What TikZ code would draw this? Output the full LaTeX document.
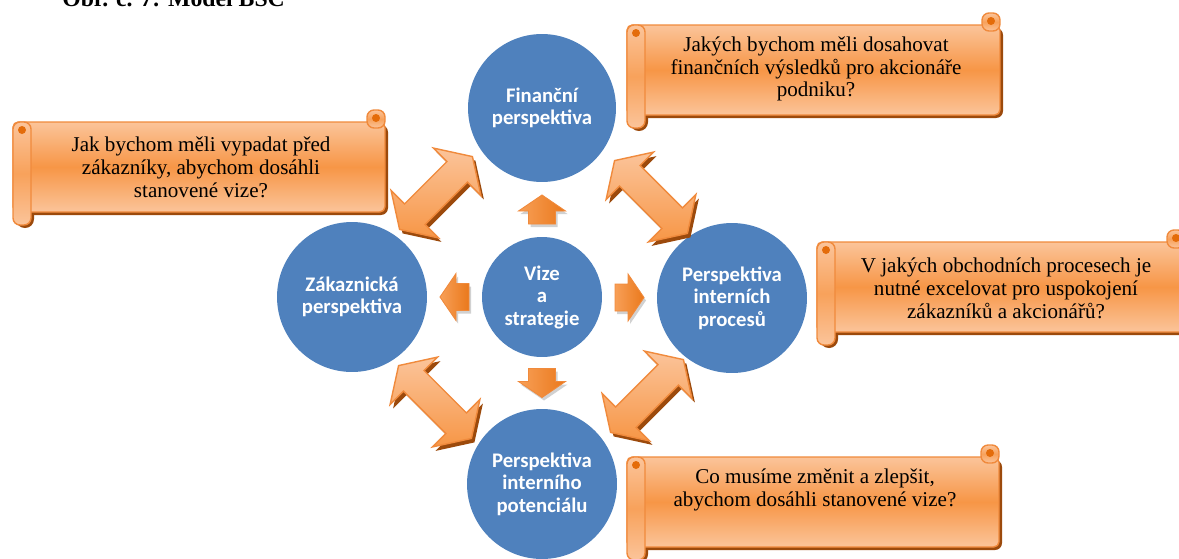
\documentclass[tikz,border=0pt]{standalone}
\usepackage{fontspec}
\setmainfont{Liberation Serif}
\newfontfamily\calibri{Carlito}
\usetikzlibrary{calc}

\definecolor{bscblue}{HTML}{4F81BD}
\definecolor{orgmid}{HTML}{F79646}
\definecolor{orglight}{HTML}{FBC49A}
\definecolor{orgdark}{HTML}{E46C0A}
\definecolor{orgline}{HTML}{F08A3C}
\definecolor{orgshadow}{HTML}{9C4A0C}

% scroll: #1 left x, #2 top y, #3 right x
\newcommand\scrollshape[3]{%
  \fill[orgshadow, rounded corners=4pt] (#1+3,#2+15) rectangle (#3+3,#2+105);
  \fill[orgshadow, rounded corners=5pt] (#1+3,#2+15) rectangle (#1+21,#2+118);
  \draw[scrollbody] (#1,#2+12) rectangle (#3,#2+102);
  \draw[scrollroll] (#3-18,#2) rectangle (#3,#2+18);
  \fill[orgdark] (#3-9,#2+8) circle (4);
  \draw[scrollroll] (#1,#2+12) rectangle (#1+18,#2+115);
  \fill[orgdark] (#1+9,#2+20) circle (4);
}
% double block arrow: #1 centre, #2 angle
\newcommand\dblarrow[2]{%
  \begin{scope}[shift={#1}, shift={(3,4)}, rotate=#2]
    \fill[orgshadow] (-51.5,0) -- (-30,-33.5) -- (-30,-14.5) -- (30,-14.5) -- (30,-33.5) -- (51.5,0)
      -- (30,33.5) -- (30,14.5) -- (-30,14.5) -- (-30,33.5) -- cycle;
  \end{scope}
  \begin{scope}[shift={#1}, rotate=#2]
    \draw[bigarr] (-51.5,0) -- (-30,-33.5) -- (-30,-14.5) -- (30,-14.5) -- (30,-33.5) -- (51.5,0)
      -- (30,33.5) -- (30,14.5) -- (-30,14.5) -- (-30,33.5) -- cycle;
  \end{scope}}
% small block arrow: #1 centre, #2 angle
\newcommand\smallarrow[2]{%
  \begin{scope}[shift={#1}, shift={(2,3)}, rotate=#2]
    \fill[black, opacity=0.18] (-14.5,-13.5) -- (-1.5,-13.5) -- (-1.5,-23.5) -- (14.5,0)
      -- (-1.5,23.5) -- (-1.5,13.5) -- (-14.5,13.5) -- cycle;
  \end{scope}
  \begin{scope}[shift={#1}, rotate=#2]
    \draw[smallarr] (-14.5,-13.5) -- (-1.5,-13.5) -- (-1.5,-23.5) -- (14.5,0)
      -- (-1.5,23.5) -- (-1.5,13.5) -- (-14.5,13.5) -- cycle;
  \end{scope}}

\begin{document}
\begin{tikzpicture}[x=0.02cm, y=-0.02cm,
  persp/.style={circle, fill=bscblue, text=white, align=center, inner sep=0pt,
    minimum size=3cm, font=\calibri\bfseries\fontsize{11.8}{12.8}\selectfont},
  qtext/.style={align=center, font=\fontsize{12}{13}\selectfont},
  scrollbody/.style={draw=orgline, line width=0.8pt, rounded corners=3pt,
    top color=orglight, bottom color=orglight, middle color=orgmid},
  scrollroll/.style={draw=orgline, line width=0.8pt, rounded corners=4pt,
    top color=orglight, bottom color=orglight, middle color=orgmid!75!orglight},
  bigarr/.style={draw=orgline, line width=0.8pt, top color=orglight, bottom color=orgmid},
  smallarr/.style={draw=orgline, line width=0.5pt, left color=orgmid!80!orglight, right color=orgdark!70!orgmid}]
\useasboundingbox (0,0) rectangle (1179,558);

\node[anchor=base west, inner sep=0pt, font=\bfseries\fontsize{13.5}{15}\selectfont] (title) at (62,6) {Obr. č. 7: Model BSC};

% perspectives
\node[persp, minimum size=2.96cm] (fin) at (542,108) {Finanční\\perspektiva};
\node[persp] (zak) at (352,297) {Zákaznická\\perspektiva};
\node[persp, minimum size=2.4cm] (vize) at (542,297) {Vize\\a\\strategie};
\node[persp] (proc) at (732,298) {Perspektiva\\interních\\procesů};
\node[persp] (pot) at (542,484) {Perspektiva\\interního\\potenciálu};

% arrows
\smallarrow{($(vize.north)!0.5!(fin.south)$)}{90}
\smallarrow{($(vize.west)!0.5!(zak.east)$)}{180}
\smallarrow{($(vize.east)!0.5!(proc.west)$)}{0}
\smallarrow{($(vize.south)!0.5!(pot.north)$)}{-90}

\dblarrow{($(zak)!0.5!(fin)+(-11,-9.5)$)}{45}
\dblarrow{($(fin)!0.5!(proc)+(14,-6)$)}{-45}
\dblarrow{($(zak)!0.5!(pot)+(-12,11.5)$)}{-45}
\dblarrow{($(proc)!0.5!(pot)+(10,5)$)}{45}

% questions
\scrollshape{627}{13}{1000}
\node[qtext] (qfin) at (816,69) {Jakých bychom měli dosahovat\\finančních výsledků pro akcionáře\\podniku?};
\scrollshape{13}{110}{385}
\node[qtext] (qzak) at (201,167) {Jak bychom měli vypadat před\\zákazníky, abychom dosáhli\\stanovené vize?};
\scrollshape{817}{230}{1185}
\node[qtext] (qproc) at (1006,288) {V jakých obchodních procesech je\\nutné excelovat pro uspokojení\\zákazníků a akcionářů?};
\scrollshape{627}{445}{999}
\node[qtext] (qpot) at (815,490) {Co musíme změnit a zlepšit,\\abychom dosáhli stanovené vize?};
\end{tikzpicture}
\end{document}
